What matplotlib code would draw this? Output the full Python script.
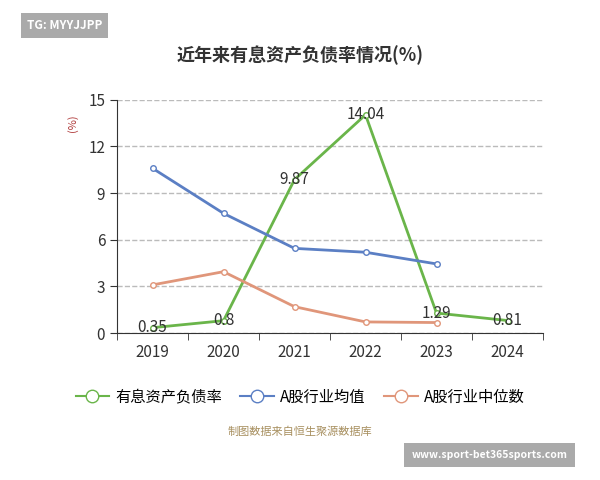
import matplotlib.pyplot as plt
from matplotlib.lines import Line2D

plt.rcParams["font.family"] = ["sans-serif"]
plt.rcParams["font.sans-serif"] = ["Noto Sans CJK SC", "Noto Sans CJK JP", "Noto Sans CJK TC", "DejaVu Sans"]

years = ["2019", "2020", "2021", "2022", "2023", "2024"]
company = [0.35, 0.8, 9.87, 14.04, 1.29, 0.81]
industry_mean = [10.6, 7.7, 5.45, 5.2, 4.45]
industry_median = [3.1, 3.95, 1.7, 0.72, 0.68]
y_ticks = [0, 3, 6, 9, 12, 15]

GREEN = "#6ab54a"
BLUE = "#5b7fc4"
ORANGE = "#e0967a"

fig = plt.figure(figsize=(6, 4.8), dpi=100)
ax = fig.add_axes([0.195, 0.306, 0.71, 0.486])

x = list(range(len(years)))
ax.plot(x, company, color=GREEN, lw=2, marker="o", ms=4, mfc="white", mec=GREEN)
ax.plot(x[:len(industry_mean)], industry_mean, color=BLUE, lw=2, marker="o", ms=4, mfc="white", mec=BLUE)
ax.plot(x[:len(industry_median)], industry_median, color=ORANGE, lw=2, marker="o", ms=4, mfc="white", mec=ORANGE)
for xi, v in zip(x, company):
    ax.text(xi, v, f"{v:g}", ha="center", va="center", fontsize=11, color="#333333")

ax.set_xlim(-0.5, len(years) - 0.5)
ax.set_ylim(0, 15)
ax.set_yticks(y_ticks)
ax.set_xticks(x)
ax.set_xticklabels(years)
ax.set_xticks([i - 0.5 for i in range(len(years) + 1)], minor=True)
ax.tick_params(axis="x", which="major", length=0, labelsize=11, colors="#333333", pad=8)
ax.tick_params(axis="x", which="minor", length=5, color="#333333")
ax.tick_params(axis="y", length=5, labelsize=11, colors="#333333")
ax.grid(axis="y", ls="--", color="#bbbbbb", lw=1)
for s in ["top", "right"]:
    ax.spines[s].set_visible(False)
ax.spines["left"].set_color("#333333")
ax.spines["bottom"].set_color("#333333")
ax.text(-0.105, 0.9, "(%)", transform=ax.transAxes, rotation=90, color="#b03a3a", fontsize=8, ha="center", va="center")

fig.text(0.5, 0.885, "近年来有息资产负债率情况(%)", ha="center", va="center", fontsize=13, fontweight="bold", color="#333333")
fig.text(0.108, 0.947, "TG: MYYJJPP", ha="center", va="center", fontsize=8.5, color="white", fontweight="bold",
         bbox=dict(boxstyle="square,pad=0.5", fc="#aaaaaa", ec="none"))
fig.text(0.816, 0.052, "www.sport-bet365sports.com", ha="center", va="center", fontsize=7.5, color="white", fontweight="bold",
         bbox=dict(boxstyle="square,pad=0.7", fc="#aaaaaa", ec="none"))
fig.text(0.5, 0.1, "制图数据来自恒生聚源数据库", ha="center", va="center", fontsize=8, color="#a89060")

handles = [Line2D([], [], color=c, lw=1.5, marker="o", ms=9, mfc="white", mec=c) for c in (GREEN, BLUE, ORANGE)]
fig.legend(handles, ["有息资产负债率", "A股行业均值", "A股行业中位数"], loc="center", bbox_to_anchor=(0.5, 0.173),
           ncol=3, frameon=False, fontsize=11, handlelength=2.2, columnspacing=1.2, handletextpad=0.4)

fig.savefig("out.png")
